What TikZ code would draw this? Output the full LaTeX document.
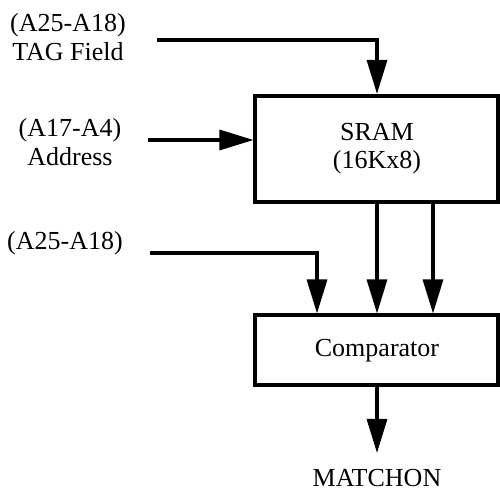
\documentclass[tikz,border=0pt]{standalone}
\usepackage{fontspec}
\setmainfont{Liberation Serif}
\usetikzlibrary{arrows.meta}
\tikzset{
  blk/.style={draw,line width=2pt,inner sep=0pt,align=center,font=\fontsize{13}{14}\selectfont},
  sig/.style={line width=1.6pt,-{Triangle[length=17pt,width=10pt]}},
  lbl/.style={align=center,font=\fontsize{13}{14.5}\selectfont}
}
\begin{document}
\begin{tikzpicture}[x=0.5pt,y=0.5pt]
  \useasboundingbox (0,0) rectangle (500,492);
  % blocks
  \node [blk,minimum width=121.5pt,minimum height=53pt] (sram) at (377,343) {SRAM\\(16Kx8)};
  \node [blk,minimum width=121.5pt,minimum height=35pt] (cmp) at (377,141.5) {Comparator};
  % labels
  \node [lbl] (tag) at (68,454.5) {(A25-A18)\\TAG Field};
  \node [lbl] (addr) at (70,350) {(A17-A4)\\Address};
  \node [lbl] (tag2) at (65,249) {(A25-A18)};
  \node [lbl] (match) at (377,14) {MATCHON};
  \coordinate (tagin) at (157,452);
  \coordinate (addrin) at (148,352);
  \coordinate (tag2in) at (150,239);
  \coordinate (matchout) at (377,39);
  % connectors
  \draw [sig] (tagin) -| (sram.north);
  \draw [sig] (addrin) -- (addrin -| sram.west);
  \draw [sig] (tag2in) -| ([xshift=-30pt]cmp.north);
  \draw [sig] (sram.south) -- (cmp.north);
  \draw [sig] ([xshift=28pt]sram.south) -- ([xshift=28pt]cmp.north);
  \draw [sig] (cmp.south) -- (matchout);
\end{tikzpicture}
\end{document}
